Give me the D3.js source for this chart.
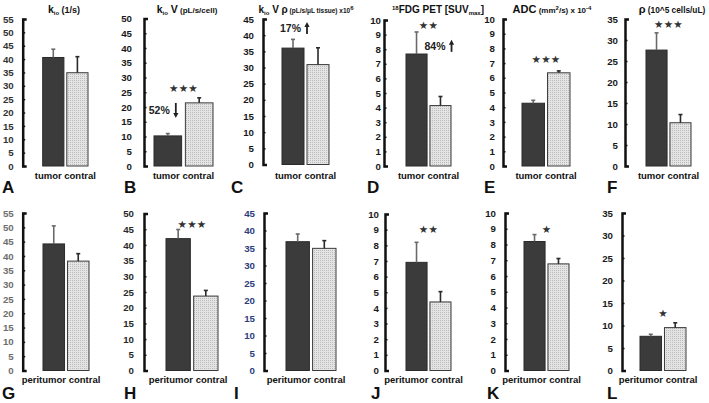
<!DOCTYPE html>
<html><head><meta charset="utf-8">
<script src="https://cdn.jsdelivr.net/npm/d3@7"></script>
<style>
body{margin:0;background:#fff}
svg{display:block;font-family:"Liberation Sans",Arial,sans-serif;font-weight:bold}
</style>
</head><body>
<svg id="c" width="709" height="403"></svg>
<script>
// ---------------- DATA ----------------
const topCategories = ["tumor", "contral"];
const bottomCategories = ["peritumor", "contral"];
const panelLetters = ["A","B","C","D","E","F","G","H","I","J","K","L"];

const meanA = [40.6, 34.9], errA = [3.1, 6.0];
const meanB = [10.2, 21.4], errB = [0.8, 1.7];
const meanC = [36.0, 30.9], errC = [2.7, 5.2];
const meanD = [7.67, 4.14], errD = [1.51, 0.62];
const meanE = [4.27, 6.34], errE = [0.20, 0.13];
const meanF = [27.6, 10.3], errF = [4.1, 1.95];
const meanG = [44.2, 38.2], errG = [6.3, 2.6];
const meanH = [42.0, 23.7], errH = [2.9, 1.8];
const meanI = [36.8, 34.9], errI = [2.2, 2.2];
const meanJ = [6.91, 4.38], errJ = [1.28, 0.66];
const meanK = [8.19, 6.77], errK = [0.44, 0.34];
const meanL = [7.6, 9.53],  errL = [0.45, 1.07];

const yMaxes = [55, 50, 45, 10, 10, 35, 55, 50, 45, 10, 10, 35];
const ySteps = [5, 5, 5, 1, 1, 5, 5, 5, 5, 1, 1, 5];

const sigStars  = ["", "★★★", "", "★★", "★★★", "★★★", "", "★★★", "", "★★", "★", "★"];
const sigLevels = [null, 26.5, null, 9.66, 7.28, 33.8, null, 46.8, null, 9.05, 8.98, 12.8];

const changeText  = [null, "52%", "17%", "84%", null, null, null, null, null, null, null, null];
const changeDir   = [null, "down", "up", "up", null, null, null, null, null, null, null, null];
const changeLevel = [null, 19, 42.2, 8.23, null, null, null, null, null, null, null, null];

// titles: segments [text, kind]  kind: b=big, s=small, sub, sup
const titles = [
  [["k","b"],["io","sub"],[" (1/s)","s"]],
  [["k","b"],["io","sub"],[" V","b"],[" (pL/s/cell)","s"]],
  [["k","b"],["io","sub"],[" V ρ","b"],[" (pL/s/μL tissue) x10","s"],["6","sup"]],
  [["18","sup"],["FDG PET [SUV","b"],["max","sub"],["]","b"]],
  [["ADC","b"],[" (mm","s"],["2","sup"],["/s) x 10","s"],["-4","sup"]],
  [["ρ","b"],[" (10^5 cells/uL)","s"]]
];

const means = [meanA,meanB,meanC,meanD,meanE,meanF,meanG,meanH,meanI,meanJ,meanK,meanL];
const errs  = [errA,errB,errC,errD,errE,errF,errG,errH,errI,errJ,errK,errL];

// ---------------- LAYOUT ----------------
const layout = [
  {ax:22.7, bx:[42.7,88],  y:[166,19],   gap:9,  tc:"#333", lx:2,   cx:0,  tx:64,  big:10.5, small:9,  chdx:0},
  {ax:144,  bx:[154,213],  y:[166,18.5], gap:12, tc:"#1a1a1a", lx:124, cx:0, tx:187, big:10.5, small:8, chdx:2},
  {ax:263,  bx:[282,329],  y:[164.5,19], gap:9,  tc:"#1a1a1a", lx:231, cx:0, tx:306, big:10, small:6.5, chdx:8},
  {ax:384,  bx:[406,451],  y:[166,20],   gap:3,  tc:"#1a1a1a", lx:367, cx:0, tx:438, big:10, small:9, chdx:29},
  {ax:503,  bx:[522,570],  y:[166,19],   gap:8,  tc:"#1a1a1a", lx:484, cx:0, tx:552, big:11, small:8, chdx:0},
  {ax:625,  bx:[646,691],  y:[166,19],   gap:7,  tc:"#1a1a1a", lx:607, cx:0, tx:672, big:11, small:8.3, chdx:0},
  {ax:22.7, bx:[43,89],    y:[370.5,213],gap:9,  tc:"#6e6e6e", lx:2,  cx:-5},
  {ax:144,  bx:[166,218],  y:[370.5,213.5],gap:10,tc:"#2a2a2a", lx:124, cx:-4},
  {ax:264,  bx:[286,336],  y:[370.5,213],gap:9,  tc:"#2e3c7c", lx:234, cx:-5},
  {ax:385,  bx:[406,451],  y:[370.5,214],gap:6,  tc:"#1a1a1a", lx:371, cx:-5},
  {ax:505,  bx:[524,569],  y:[370.5,213],gap:9,  tc:"#1a1a1a", lx:487, cx:-5},
  {ax:622,  bx:[640,686],  y:[370.5,213],gap:9,  tc:"#1a1a1a", lx:607, cx:-5}
];

const svg = d3.select("#c");
const defs = svg.append("defs");
const pat = defs.append("pattern").attr("id","dots").attr("width",2).attr("height",2)
  .attr("patternUnits","userSpaceOnUse");
pat.append("rect").attr("width",2).attr("height",2).attr("fill","#e4e4e4");
pat.append("rect").attr("width",1).attr("height",1).attr("fill","#bcbcbc");

means.forEach((mean, i) => {
  const L = layout[i];
  const top = i < 6;
  const cats = top ? topCategories : bottomCategories;
  const g = svg.append("g");
  const y = d3.scaleLinear().domain([0, yMaxes[i]]).range(L.y);
  const x = d3.scaleBand().domain(cats).range(L.bx).paddingInner(0.12);

  const axis = d3.axisLeft(y)
    .tickValues(d3.range(0, yMaxes[i] + ySteps[i] / 2, ySteps[i]))
    .tickSizeInner(-2.5).tickSizeOuter(-4).tickPadding(L.gap);
  const ga = g.append("g").attr("transform", `translate(${L.ax},0)`).call(axis)
    .attr("font-family", '"Liberation Sans",Arial,sans-serif').attr("font-size", 9.7).attr("font-weight","bold");
  ga.select(".domain").attr("stroke", "#111").attr("stroke-width", 2.5).attr("fill","none");
  ga.selectAll(".tick line").attr("stroke", "#111").attr("stroke-width", 1.5);
  ga.selectAll(".tick text").attr("fill", L.tc);

  const data = cats.map((c, j) => ({c, v: mean[j], e: errs[i][j], j}));

  g.selectAll("rect.bar").data(data).join("rect").attr("class","bar")
    .attr("x", d => x(d.c)).attr("width", x.bandwidth())
    .attr("y", d => y(d.v)).attr("height", d => y(0) - y(d.v))
    .attr("fill", d => d.j === 0 ? "#3b3b3b" : "url(#dots)")
    .attr("stroke", d => d.j === 0 ? "#2a2a2a" : "#3a3a3a").attr("stroke-width", 1);

  // error bars
  const eb = g.selectAll("g.err").data(data).join("g").attr("class","err")
    .attr("stroke", d => d.j === 0 ? "#6a6a6a" : "#2a2a2a").attr("stroke-width", 1.6);
  eb.append("line")
    .attr("x1", d => x(d.c) + x.bandwidth()/2).attr("x2", d => x(d.c) + x.bandwidth()/2)
    .attr("y1", d => y(d.v)).attr("y2", d => y(d.v + d.e));
  eb.append("line")
    .attr("x1", d => x(d.c) + x.bandwidth()/2 - 2).attr("x2", d => x(d.c) + x.bandwidth()/2 + 2)
    .attr("y1", d => y(d.v + d.e)).attr("y2", d => y(d.v + d.e));

  // category labels
  const mid = (L.bx[0] + L.bx[1]) / 2;
  g.append("text").attr("x", mid + L.cx).attr("y", top ? 178.5 : 382.5)
    .attr("text-anchor","middle").attr("font-size", 9.5).attr("fill","#111")
    .text(cats.join(" "));

  // panel letter
  g.append("text").attr("x", L.lx).attr("y", top ? 193 : 399)
    .attr("font-size", 17).attr("fill","#111").text(panelLetters[i]);

  // significance
  if (sigStars[i]) {
    g.append("text").attr("x", mid).attr("y", y(sigLevels[i]))
      .attr("text-anchor","middle").attr("dominant-baseline","central")
      .attr("font-family","DejaVu Sans").attr("font-size", 10.5).attr("fill","#333")
      .attr("letter-spacing", 0.3)
      .text(sigStars[i]);
  }

  // change annotation
  if (changeText[i]) {
    const cx0 = x(cats[0]) + x.bandwidth()/2 + L.chdx;
    const yy = y(changeLevel[i]);
    g.append("text").attr("x", cx0).attr("y", yy)
      .attr("text-anchor","end").attr("dominant-baseline","central")
      .attr("font-size", 10.5).attr("fill","#222").text(changeText[i]);
    const axx = cx0 + 6;
    const up = changeDir[i] === "up";
    const y1 = up ? yy + 6 : yy - 7, y2 = up ? yy - 6 : yy + 8;
    const hd = up ? 5 : -5;
    g.append("line").attr("x1", axx).attr("x2", axx).attr("y1", y1).attr("y2", y2 + hd*0.6)
      .attr("stroke","#222").attr("stroke-width",1.8);
    g.append("path").attr("d", `M${axx-2.6},${y2+hd}L${axx},${y2}L${axx+2.6},${y2+hd}Z`).attr("fill","#222");
  }

  // title
  if (top) {
    const t = g.append("text").attr("x", L.tx).attr("y", 13).attr("text-anchor","middle").attr("fill","#111");
    let shift = 0;
    titles[i].forEach(([s, kind]) => {
      let size = kind === "b" ? L.big : kind === "s" ? L.small : 6;
      let target = kind === "sub" ? 2 : kind === "sup" ? -3.5 : 0;
      t.append("tspan").attr("font-size", size).attr("dy", target - shift).text(s);
      shift = target;
    });
  }
});
</script>
</body></html>
